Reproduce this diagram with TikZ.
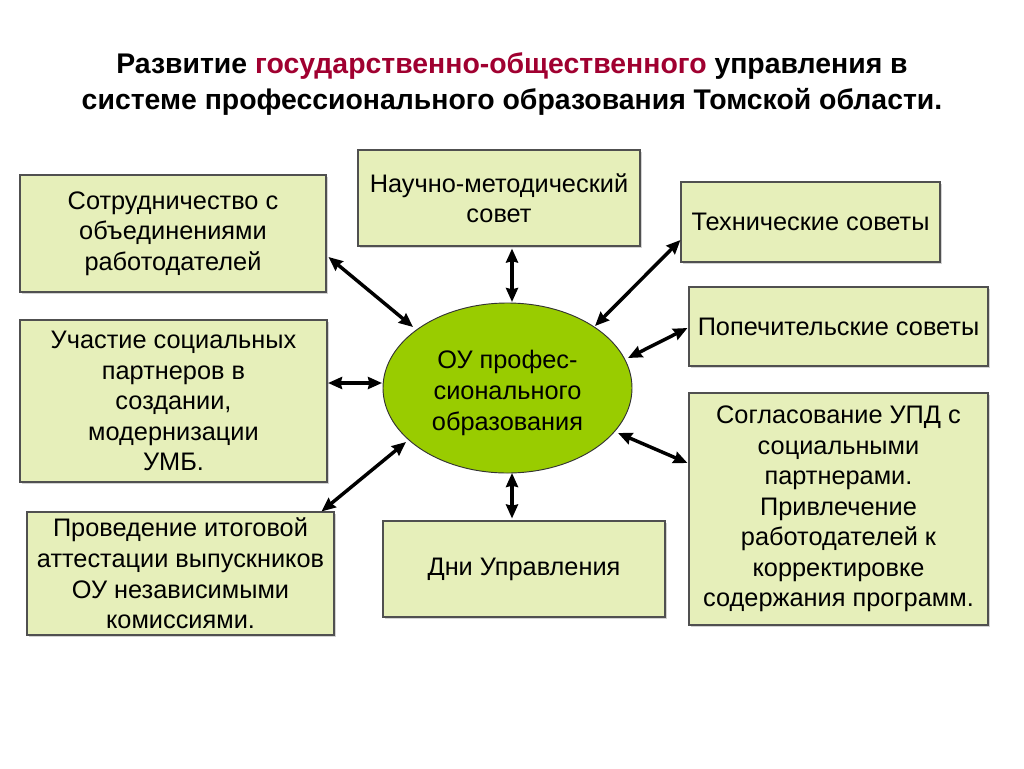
\documentclass[tikz,border=0pt]{standalone}
\usepackage{fontspec}
\setmainfont{Liberation Sans}
\usetikzlibrary{shapes.geometric,arrows.meta,calc,shadows}
\definecolor{boxfill}{RGB}{230,239,186}
\definecolor{boxline}{RGB}{80,80,80}
\definecolor{ellfill}{RGB}{153,204,0}
\definecolor{titlered}{RGB}{160,0,48}
\tikzset{
  stdbox/.style={draw=boxline, fill=boxfill, line width=0.8pt, inner sep=0pt,
    align=center, font=\fontsize{19}{22.9}\selectfont,
    drop shadow={shadow xshift=1.2pt, shadow yshift=-1.2pt, opacity=0.35}},
  hub/.style={ellipse, draw=black!80, fill=ellfill, line width=0.7pt, inner sep=0pt},
  hubtext/.style={align=center, inner sep=0pt, font=\fontsize{19}{23.4}\selectfont},
  link/.style={line width=2.6pt, {Stealth[length=10.5pt,width=9pt,inset=1pt]}-{Stealth[length=10.5pt,width=9pt,inset=1pt]}},
}
\begin{document}
\begin{tikzpicture}[x=0.75pt,y=-0.75pt]
\useasboundingbox (0,0) rectangle (1024,768);
\node[align=center, font=\fontsize{21.3}{26.3}\selectfont\bfseries] (title) at (512,84)
  {Развитие {\color{titlered}государственно-общественного} управления в\\системе профессионального образования Томской области.};

\node[hub, minimum width=186.75pt, minimum height=127.5pt] (ell) at (507.5,388) {};
\node[hubtext] (elltext) at ($(ell.center)+(0,5)$) {ОУ профес-\\сионального\\образования};

\node[stdbox, minimum width=229.5pt, minimum height=87.75pt] (b1) at (173,233.5)
  {Сотрудничество с\\объединениями\\работодателей};
\node[stdbox, minimum width=230.25pt, minimum height=121.5pt] (b2) at (173.5,401)
  {Участие социальных\\партнеров в\\создании,\\модернизации\\УМБ.};
\node[stdbox, minimum width=230.25pt, minimum height=92.25pt] (b3) at (180.5,573.5)
  {Проведение итоговой\\аттестации выпускников\\ОУ независимыми\\комиссиями.};
\node[stdbox, minimum width=211.5pt, minimum height=72pt] (b4) at (499,198)
  {Научно-методический\\совет};
\node[stdbox, minimum width=194.25pt, minimum height=60pt] (b5) at (810.5,222)
  {Технические советы};
\node[stdbox, minimum width=224.25pt, minimum height=59.25pt] (b6) at (838.5,326.5)
  {Попечительские советы};
\node[stdbox, minimum width=224.25pt, minimum height=174pt] (b7) at (838.5,509)
  {Согласование УПД с\\социальными\\партнерами.\\Привлечение\\работодателей к\\корректировке\\содержания программ.};
\node[stdbox, minimum width=211.5pt, minimum height=72pt] (b8) at (524,569)
  {Дни Управления};

\draw[link] ($(b1.east)+(2,23.5)$) -- ($(ell.center)+(-94.5,-61)$);
\draw[link] ($(b4.south)+(13,2)$) -- ($(ell.center)+(4.5,-86)$);
\draw[link] ($(b5.west)+(0,18)$) -- ($(ell.center)+(87.5,-62)$);
\draw[link] ($(b6.west)+(-1,1.5)$) -- ($(ell.center)+(120.5,-30)$);
\draw[link] ($(b2.east)+(0.5,-18)$) -- ($(ell.center)+(-125.5,-5)$);
\draw[link] ($(b3.north east)+(-13,0)$) -- ($(ell.center)+(-101.5,54)$);
\draw[link] ($(ell.center)+(4.5,85)$) -- ($(b8.north)+(-12,-2)$);
\draw[link] ($(ell.center)+(110.5,45)$) -- ($(b7.west)+(-1,-46)$);
\end{tikzpicture}
\end{document}
